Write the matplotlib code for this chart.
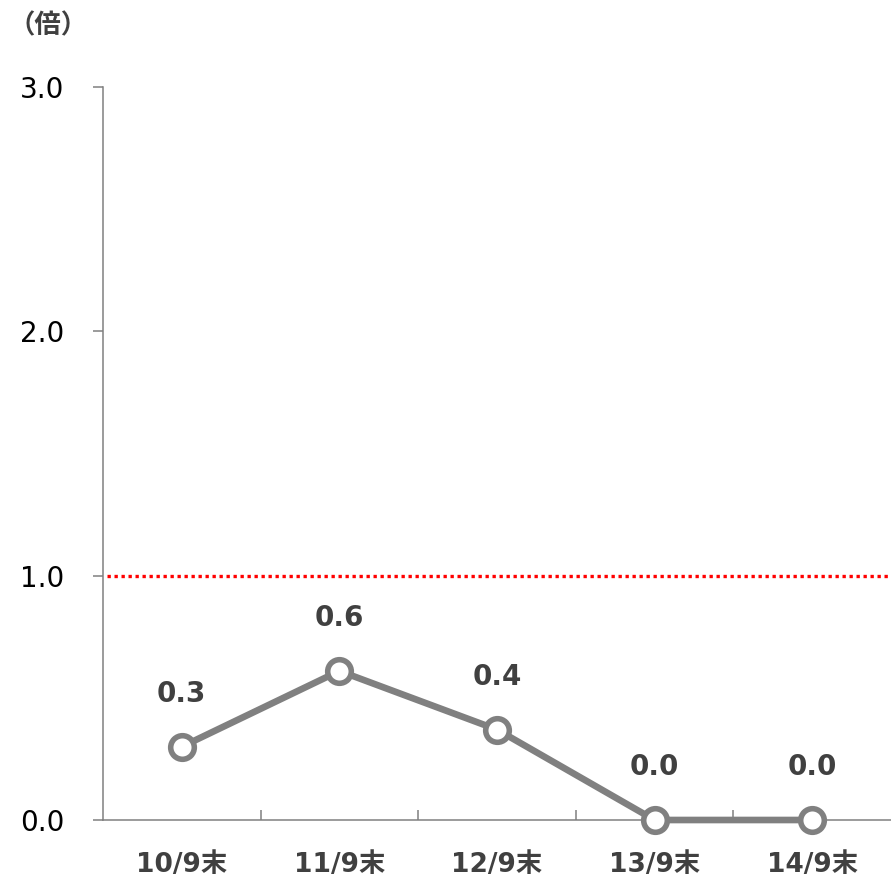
import matplotlib
matplotlib.use('Agg')
import matplotlib.pyplot as plt

categories = ['10/9末', '11/9末', '12/9末', '13/9末', '14/9末']
values = [0.30, 0.61, 0.37, 0.0, 0.0]
labels = ['0.3', '0.6', '0.4', '0.0', '0.0']
yticks = [0.0, 1.0, 2.0, 3.0]
threshold = 1.0

fams = ['DejaVu Sans', 'Noto Sans CJK JP']
grey = '#808080'
dark = '#404040'

fig = plt.figure(figsize=(8.91, 8.77), dpi=100)
ax = fig.add_axes([103 / 891, 57 / 877, 788 / 891, 733 / 877])

x = list(range(len(categories)))
ax.axhline(threshold, color='#ff0000', lw=2.4, ls=(0, (1, 1.1)), xmin=0.005, zorder=1)
ax.plot(x, values, color=grey, lw=4.8, marker='o', markersize=17,
        markerfacecolor='white', markeredgecolor=grey, markeredgewidth=4,
        zorder=3, clip_on=False)

for xi, v, lab in zip(x, values, labels):
    ax.annotate(lab, (xi, v), xytext=(0, 38), textcoords='offset points',
                ha='center', va='center', fontsize=20, fontweight='bold',
                color=dark, family=fams)

ax.set_xlim(-0.5, 4.5)
ax.set_ylim(0, 3)
ax.set_yticks(yticks)
ax.set_yticklabels([f'{t:.1f}' for t in yticks], fontsize=20, family=fams, color='black')
ax.set_xticks(x)
ax.set_xticklabels(categories, fontsize=19, fontweight='bold', color=dark, family=fams)
ax.set_xticks([i + 0.5 for i in x[:-1]], minor=True)

ax.tick_params(axis='x', which='major', length=0, pad=23)
ax.tick_params(axis='x', which='minor', direction='in', length=7, width=1.1, color=grey)
ax.tick_params(axis='y', direction='out', length=7, width=1.1, color=grey, pad=21)

for s in ['top', 'right']:
    ax.spines[s].set_visible(False)
for s in ['left', 'bottom']:
    ax.spines[s].set_color(grey)
    ax.spines[s].set_linewidth(1.1)

fig.text(8 / 891, 1 - 26 / 877, '（倍）', fontsize=19, fontweight='bold',
         color=dark, family=['Noto Sans CJK JP', 'DejaVu Sans'], va='center', ha='left')

plt.savefig('out.png', dpi=100)
